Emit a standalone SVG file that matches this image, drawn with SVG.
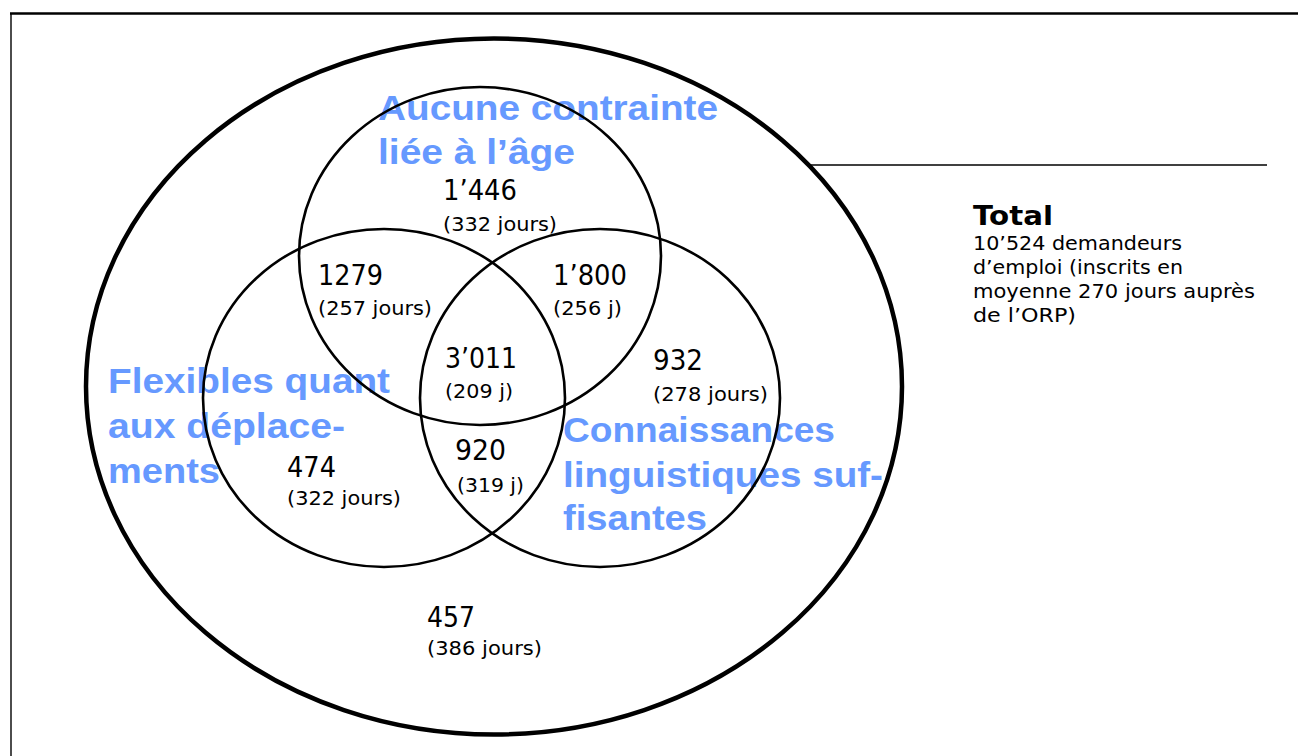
<svg xmlns="http://www.w3.org/2000/svg" width="1298" height="756" viewBox="0 0 1298 756">
<style>
.set{fill:none;stroke:#000;stroke-width:2.6}
.outer{fill:none;stroke:#000;stroke-width:4.5}
.lbl{font-family:"Liberation Sans",Arial,sans-serif;font-weight:bold;font-size:35px;fill:#6699ff}
.num{font-family:"DejaVu Sans",Verdana,sans-serif;font-size:28px;fill:#000}
.sub{font-family:"DejaVu Sans",Verdana,sans-serif;font-size:20px;fill:#000}
.tot{font-family:"DejaVu Sans",Verdana,sans-serif;font-size:19px;fill:#000}
.totb{font-family:"DejaVu Sans",Verdana,sans-serif;font-weight:bold;font-size:27px;fill:#000}
</style>
<rect width="1298" height="756" fill="#fff"/>
<g id="frame" stroke="#000" fill="none">
<line x1="10" y1="13.5" x2="1298" y2="13.5" stroke-width="2.5"/>
<line x1="11" y1="13" x2="11" y2="756" stroke-width="1.4"/>
</g>
<g id="label-age"><text class="lbl" x="378" y="120" textLength="340" lengthAdjust="spacingAndGlyphs">Aucune contrainte</text><text class="lbl" x="378" y="164" textLength="197" lengthAdjust="spacingAndGlyphs">liée à l’âge</text></g>
<g id="label-flex"><text class="lbl" x="108" y="393" textLength="282" lengthAdjust="spacingAndGlyphs">Flexibles quant</text><text class="lbl" x="108" y="438" textLength="237" lengthAdjust="spacingAndGlyphs">aux déplace-</text><text class="lbl" x="108" y="483" textLength="112" lengthAdjust="spacingAndGlyphs">ments</text></g>
<g id="label-lang"><text class="lbl" x="563" y="442" textLength="272" lengthAdjust="spacingAndGlyphs">Connaissances</text><text class="lbl" x="563" y="487" textLength="320" lengthAdjust="spacingAndGlyphs">linguistiques suf-</text><text class="lbl" x="563" y="530" textLength="144" lengthAdjust="spacingAndGlyphs">fisantes</text></g>
<g id="total-set"><ellipse class="outer" cx="494" cy="386.5" rx="408" ry="348"/></g>
<g id="set-age"><ellipse class="set" cx="480" cy="256" rx="181" ry="169"/></g>
<g id="set-flex"><ellipse class="set" cx="384" cy="398" rx="181" ry="169"/></g>
<g id="set-lang"><ellipse class="set" cx="600" cy="398" rx="180" ry="169"/></g>
<g id="connectors"><line x1="810" y1="165" x2="1267" y2="165" stroke="#000" stroke-width="1.6"/></g>
<g id="region-age-only"><text class="num" x="443" y="200" textLength="74" lengthAdjust="spacingAndGlyphs">1’446</text><text class="sub" x="443" y="231" textLength="114" lengthAdjust="spacingAndGlyphs">(332 jours)</text></g>
<g id="region-age-flex"><text class="num" x="318" y="285" textLength="65" lengthAdjust="spacingAndGlyphs">1279</text><text class="sub" x="318" y="315" textLength="114" lengthAdjust="spacingAndGlyphs">(257 jours)</text></g>
<g id="region-age-lang"><text class="num" x="553" y="285" textLength="74" lengthAdjust="spacingAndGlyphs">1’800</text><text class="sub" x="553" y="315" textLength="69" lengthAdjust="spacingAndGlyphs">(256 j)</text></g>
<g id="region-all"><text class="num" x="445" y="368" textLength="72" lengthAdjust="spacingAndGlyphs">3’011</text><text class="sub" x="445" y="398" textLength="68" lengthAdjust="spacingAndGlyphs">(209 j)</text></g>
<g id="region-lang-only"><text class="num" x="653" y="370" textLength="50" lengthAdjust="spacingAndGlyphs">932</text><text class="sub" x="653" y="401" textLength="115" lengthAdjust="spacingAndGlyphs">(278 jours)</text></g>
<g id="region-flex-only"><text class="num" x="287" y="477" textLength="49" lengthAdjust="spacingAndGlyphs">474</text><text class="sub" x="287" y="505" textLength="114" lengthAdjust="spacingAndGlyphs">(322 jours)</text></g>
<g id="region-flex-lang"><text class="num" x="455" y="460" textLength="51" lengthAdjust="spacingAndGlyphs">920</text><text class="sub" x="457" y="492" textLength="67" lengthAdjust="spacingAndGlyphs">(319 j)</text></g>
<g id="region-none"><text class="num" x="427" y="627" textLength="48" lengthAdjust="spacingAndGlyphs">457</text><text class="sub" x="427" y="655" textLength="115" lengthAdjust="spacingAndGlyphs">(386 jours)</text></g>
<g id="total-label"><text class="totb" x="973" y="225" textLength="80" lengthAdjust="spacingAndGlyphs">Total</text><text class="tot" x="973" y="250" textLength="209" lengthAdjust="spacingAndGlyphs">10’524 demandeurs</text><text class="tot" x="973" y="274" textLength="210" lengthAdjust="spacingAndGlyphs">d’emploi (inscrits en</text><text class="tot" x="973" y="298" textLength="282" lengthAdjust="spacingAndGlyphs">moyenne 270 jours auprès</text><text class="tot" x="973" y="322" textLength="103" lengthAdjust="spacingAndGlyphs">de l’ORP)</text></g>
</svg>
